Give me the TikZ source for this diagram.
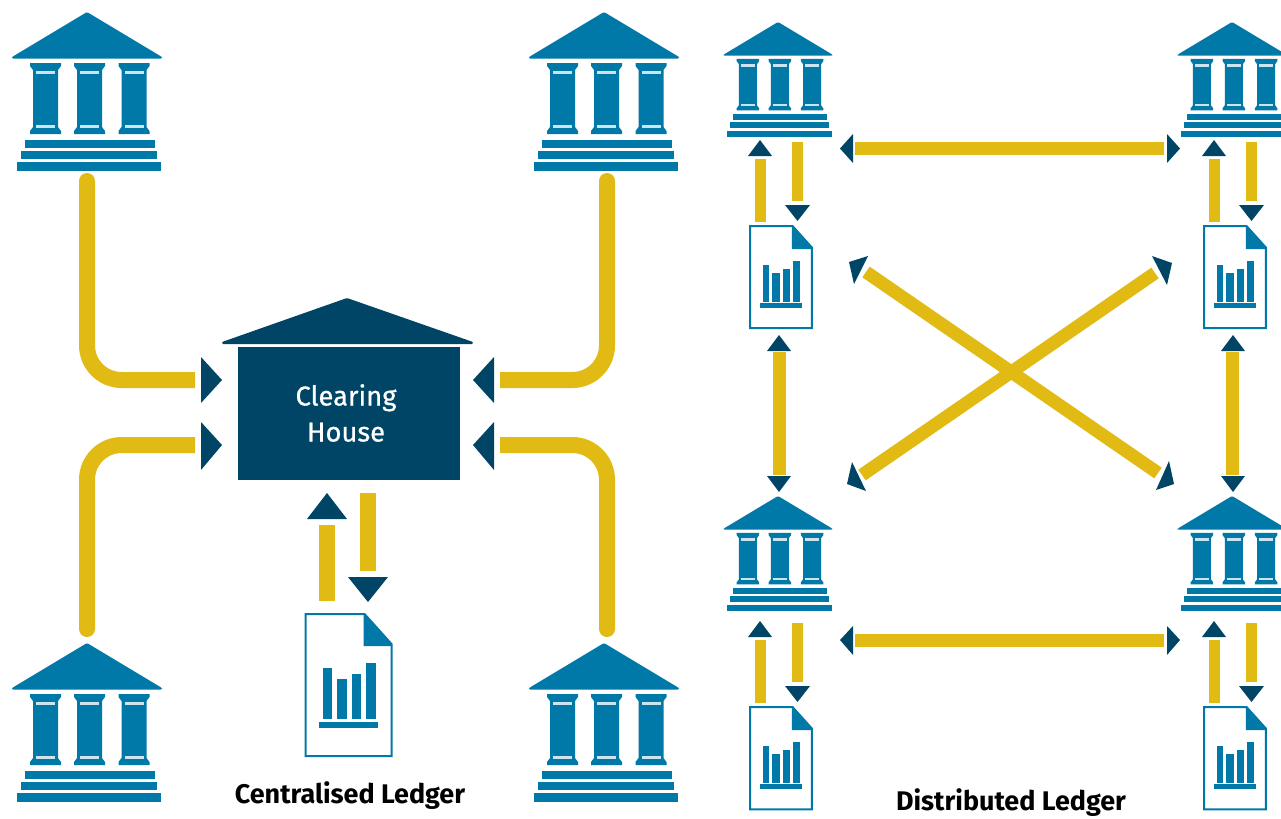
\documentclass[tikz,border=0pt]{standalone}
\usepackage{fontspec}
\setmainfont{Fira Sans}
\newfontfamily\housefont[FakeBold=0.7]{Fira Sans}
\usetikzlibrary{arrows.meta}
\definecolor{bankblue}{HTML}{0078A8}
\definecolor{housenavy}{HTML}{004565}
\definecolor{linkgold}{HTML}{E1BA13}
\tikzset{
  x=0.75pt,y=-0.75pt,
  bankfill/.style={fill=bankblue,draw=none},
  tipfill/.style={fill=housenavy,draw=none},
  link/.style={draw=linkgold,line width=9.75pt},
  linkthin/.style={draw=linkgold,line width=8.6pt},
  bigroute/.style={draw=linkgold,line width=12pt,rounded corners=26pt},
  bigstraight/.style={draw=linkgold,line width=12pt},
  caption/.style={font=\fontsize{20.2}{22}\selectfont\bfseries,text=black,inner sep=0pt},
  housetext/.style={font=\housefont\fontsize{20.5}{27}\selectfont,text=white,align=center,inner sep=0pt},
  column/.pic={
    \fill[bankfill] (-15.5,51)--(15.5,51)--(15.5,54)--(12.5,58)--(12.5,115)--(15.5,119)--(15.5,122)--(-15.5,122)--(-15.5,119)--(-12.5,115)--(-12.5,58)--(-15.5,54)--cycle;
    \fill[white!80!bankblue] (-9.5,58.5) rectangle (9.5,61.5);
    \fill[white!80!bankblue] (-9.5,113) rectangle (9.5,116);
  },
  bank/.pic={
    \fill[bankfill,rounded corners=0.8pt] (0,0)--(75,45)--(75,46.5)--(-75,46.5)--(-75,45)--cycle;
    \pic[transform shape] at (-41.5,0) {column};
    \pic[transform shape] at (2.5,0) {column};
    \pic[transform shape] at (47,0) {column};
    \fill[bankfill] (-62,127.5) rectangle (68,135.5);
    \fill[bankfill] (-66,138.5) rectangle (70,146.5);
    \fill[bankfill] (-70,150) rectangle (74,159);
  },
  ledgerdoc/.pic={
    \draw[bankblue,line width=1.5pt,fill=white,line join=miter] (0,0)--(59,0)--(86,30)--(86,142)--(0,142)--cycle;
    \fill[bankfill] (58,0)--(87,32)--(58,32)--cycle;
    \fill[bankfill] (17.5,54) rectangle (26.5,105);
    \fill[bankfill] (31,65) rectangle (41,105);
    \fill[bankfill] (46,60) rectangle (55,105);
    \fill[bankfill] (60,49) rectangle (70,105);
    \fill[bankfill] (13.5,107.5) rectangle (72,113.5);
  },
  ledgerlink/.pic={
    % origin at the bank's apex
    \coordinate (upa) at (-17.5,137);
    \coordinate (upb) at (-17.5,200);
    \coordinate (dna) at (19.5,120);
    \coordinate (dnb) at (19.5,179);
    \draw[linkthin] (upa)--(upb);
    \draw[linkthin] (dna)--(dnb);
    \fill[tipfill] (-30,134)--(-6,134)--(-18,118)--cycle;
    \fill[tipfill] (7,183)--(32,183)--(19.5,199)--cycle;
    \pic[scale=.72] at (-28,204) {ledgerdoc};
  }
}
\begin{document}
\begin{tikzpicture}
\clip (0,0) rectangle (1281,818);
\fill[white] (0,0) rectangle (1281,818);

% ---------- Centralised ledger
\pic at (87,12) {bank};
\pic at (604,12) {bank};
\pic at (87,643) {bank};
\pic at (604,643) {bank};

\fill[housenavy,rounded corners=0.8pt] (347,298)--(473,342)--(473,344)--(222,344)--(222,342)--cycle;
\node[fill=housenavy,minimum width=166.5pt,minimum height=99.75pt,inner sep=0pt,outer sep=0pt,anchor=north west] (house) at (238,347) {};
\node[housetext] (houselabel) at (346,413) {Clearing\\House};

\coordinate (tl) at (87,181);
\coordinate (tlc) at (87,380);
\coordinate (tle) at (195,380);
\coordinate (bl) at (87,629);
\coordinate (blc) at (87,445);
\coordinate (ble) at (195,445);
\coordinate (tr) at (607,181);
\coordinate (trc) at (607,380);
\coordinate (tre) at (500,380);
\coordinate (br) at (607,629);
\coordinate (brc) at (607,445);
\coordinate (bre) at (500,445);
\foreach \a/\b/\c in {tl/tlc/tle,bl/blc/ble,tr/trc/tre,br/brc/bre}{
  \draw[bigroute] (\a)--(\b)--(\c);
  \fill[linkgold] (\a) circle (8);
}
\fill[tipfill] (201,357)--(222,380)--(201,403)--cycle;
\fill[tipfill] (201,422)--(222,445)--(201,470)--cycle;
\fill[tipfill] (494,357)--(473,380)--(494,403)--cycle;
\fill[tipfill] (494,422)--(473,445)--(494,470)--cycle;

\coordinate (cua) at (327,525);
\coordinate (cub) at (327,601);
\coordinate (cda) at (368,493);
\coordinate (cdb) at (368,571);
\draw[bigstraight] (cua)--(cub);
\draw[bigstraight] (cda)--(cdb);
\fill[tipfill] (307,519)--(347,519)--(327,493)--cycle;
\fill[tipfill] (348,577)--(388,577)--(368,602)--cycle;

\pic at (305.5,614) {ledgerdoc};
\node[caption] (clabel) at (350,796) {Centralised Ledger};

% ---------- Distributed ledger
\pic[scale=.725] at (778,22) {bank};
\pic[scale=.725] at (1232,22) {bank};
\pic[scale=.725] at (778,496) {bank};
\pic[scale=.725] at (1232,496) {bank};
\pic at (778,22) {ledgerlink};
\pic at (1232,22) {ledgerlink};
\pic at (778,503) {ledgerlink};
\pic at (1232,503) {ledgerlink};

% horizontal links
\coordinate (ta) at (855,148.5);
\coordinate (tb) at (1164,148.5);
\coordinate (ba) at (855,640);
\coordinate (bb) at (1164,640);
\draw[link] (ta)--(tb);
\draw[link] (ba)--(bb);
\fill[tipfill] (853,134)--(840,148.5)--(853,163)--cycle;
\fill[tipfill] (1167,134)--(1180,148.5)--(1167,163)--cycle;
\fill[tipfill] (853,626)--(840,640)--(853,655)--cycle;
\fill[tipfill] (1167,626)--(1180,640)--(1167,655)--cycle;

% vertical links
\coordinate (la) at (779,352);
\coordinate (lb) at (779,475);
\coordinate (ra) at (1232.5,352);
\coordinate (rb) at (1232.5,475);
\draw[link] (la)--(lb);
\draw[link] (ra)--(rb);
\fill[tipfill] (767,351)--(791,351)--(779,335)--cycle;
\fill[tipfill] (767,476)--(791,476)--(779,492)--cycle;
\fill[tipfill] (1221,351)--(1245,351)--(1233,335)--cycle;
\fill[tipfill] (1221,476)--(1245,476)--(1233,492)--cycle;

% diagonals
\coordinate (nw) at (866,272);
\coordinate (se) at (1158,473);
\coordinate (ne) at (1155,273);
\coordinate (sw) at (862,475);
\draw[link] (nw)--(se);
\draw[link] (ne)--(sw);
\fill[tipfill] (849,262)--(868,256)--(854,284)--cycle;
\fill[tipfill] (1152,256)--(1172,263)--(1167,285)--cycle;
\fill[tipfill] (852,462)--(847,484)--(866,491)--cycle;
\fill[tipfill] (1169,461)--(1174,484)--(1156,490)--cycle;

\node[caption] (dlabel) at (1011,803) {Distributed Ledger};
\end{tikzpicture}
\end{document}
